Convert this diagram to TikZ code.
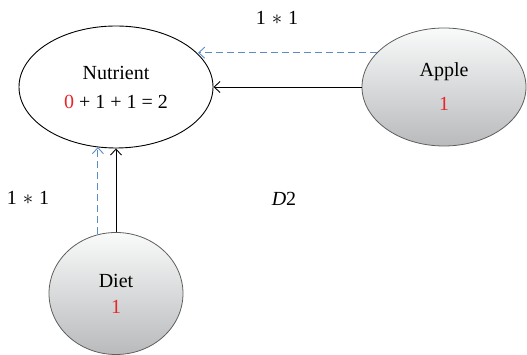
\documentclass[tikz,border=0pt]{standalone}
\usepackage{fontspec}
\setmainfont{Liberation Serif}
\usetikzlibrary{arrows.meta,shapes.geometric}
\definecolor{numred}{HTML}{E8262A}
\definecolor{flowblue}{HTML}{5B8CC8}
\definecolor{shadetop}{HTML}{F9FAFA}
\definecolor{shadebot}{HTML}{B9BABC}
\definecolor{rimgray}{HTML}{5E5E5E}
\tikzset{
  base/.style={ellipse, inner sep=0pt, font=\fontsize{20}{24}\selectfont, align=center},
  plain/.style={base, draw=black, line width=0.9pt, fill=white},
  shaded/.style={base, draw=rimgray, line width=0.8pt, top color=shadetop, bottom color=shadebot},
  tip/.style={-{Straight Barb[length=6pt,width=11pt]}},
  solidlink/.style={tip, draw=black, line width=0.9pt},
  dashlink/.style={tip, draw=flowblue, line width=0.9pt, dash pattern=on 7pt off 4pt},
  lbl/.style={font=\fontsize{20}{24}\selectfont, inner sep=0pt}
}
\begin{document}
\begin{tikzpicture}[x=1pt,y=1pt]
\useasboundingbox (0,0) rectangle (527,355);
\node[plain, minimum width=194pt, minimum height=122pt] (Nutrient) at (116,268)
  {Nutrient\\[5pt]{\color{numred}0} + 1 + 1 = 2};
\node[shaded, minimum width=164pt, minimum height=118pt] (Apple) at (444,268)
  {Apple\\[10pt]{\color{numred}1}};
\node[shaded, minimum width=134pt, minimum height=122pt] (Diet) at (116,61.5)
  {Diet\\[2pt]{\color{numred}1}};
% weighted links into Nutrient
\draw[solidlink] (Apple.west) -- (Nutrient.east);
\draw[dashlink] (Apple.153) -- (Apple.153 -| Nutrient.22);
\draw[solidlink] (Diet.north) -- (Nutrient.south);
\draw[dashlink] (Diet.107) -- (Diet.107 |- Nutrient.251);
% labels
\node[lbl] (wtop) at (277,337) {1\hspace{6pt}$\ast$\hspace{6pt}1};
\node[lbl] (wleft) at (28,157) {1\hspace{6pt}$\ast$\hspace{6pt}1};
\node[lbl] (dtag) at (284,156) {\textit{D}2};
\end{tikzpicture}
\end{document}
